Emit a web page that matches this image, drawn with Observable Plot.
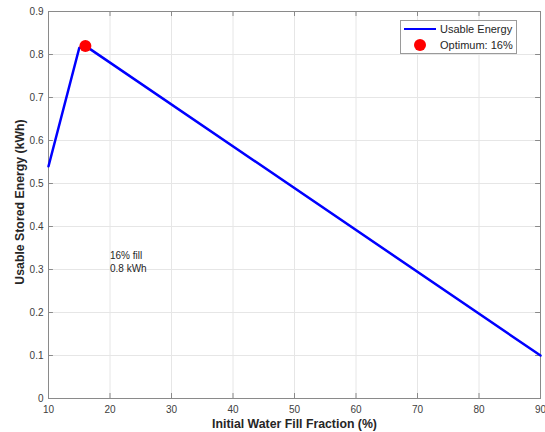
<!DOCTYPE html>
<html><head><meta charset="utf-8">
<script src="https://cdn.jsdelivr.net/npm/d3@7"></script>
<script src="https://cdn.jsdelivr.net/npm/@observablehq/plot@0.6"></script>
<style>
body{margin:0;background:#fff;font-family:"Liberation Sans",Arial,sans-serif}
#wrap{position:relative;width:545px;height:432px}
#legend{position:absolute;left:400px;top:20px;width:115px;height:32px;border:1px solid #9a9a9a;background:#fff;font-size:11px;color:#262626}
.row{position:absolute;left:0;height:14px;display:flex;align-items:center}
.sw{width:32px;margin-left:3px;display:flex;justify-content:center;align-items:center}
.lab{margin-left:4px}
</style>
</head><body>
<div id="wrap"><div id="legend">
<div class="row" style="top:1px"><div class="sw"><div style="width:32px;height:2.5px;background:#0000ff"></div></div><div class="lab">Usable Energy</div></div>
<div class="row" style="top:17px"><div class="sw"><div style="width:12px;height:12px;border-radius:6px;background:#ff0000"></div></div><div class="lab">Optimum: 16%</div></div>
</div></div>
<script>
const fillPct = [10, 15, 16, 90];
const usableEnergy = [0.54, 0.815, 0.82, 0.10];
const optFill = [16];
const optEnergy = [0.82];
const xTicks = [10, 20, 30, 40, 50, 60, 70, 80, 90];
const yTicks = [0, 0.1, 0.2, 0.3, 0.4, 0.5, 0.6, 0.7, 0.8, 0.9];
const noteText = ["16% fill\n0.8 kWh"];
const noteX = [20];
const noteY = [0.32];
const xLabel = "Initial Water Fill Fraction (%)";
const yLabel = "Usable Stored Energy (kWh)";

const lineData = fillPct.map((x, i) => ({x, y: usableEnergy[i]}));
const optData = optFill.map((x, i) => ({x, y: optEnergy[i]}));
const noteData = noteText.map((t, i) => ({t, x: noteX[i], y: noteY[i]}));
const axisColor = "#8a8a8a";
const tickFmt = d => String(d);
const tx = 0.8, ty = 0.0116;

const chart = Plot.plot({
  width: 545, height: 432,
  marginLeft: 48, marginRight: 5, marginTop: 11, marginBottom: 34,
  style: {fontFamily: '"Liberation Sans", Arial, sans-serif', fontSize: "10px", color: "#262626", background: "#fff"},
  x: {domain: [10, 90]},
  y: {domain: [0, 0.9]},
  marks: [
    Plot.gridX(xTicks, {stroke: "#e6e6e6", strokeOpacity: 1}),
    Plot.gridY(yTicks, {stroke: "#e6e6e6", strokeOpacity: 1}),
    Plot.axisX(xTicks, {anchor: "bottom", tickSize: 0, tickPadding: 7, tickFormat: tickFmt, label: null, fill: "#404040"}),
    Plot.axisY(yTicks, {anchor: "left", tickSize: 0, tickPadding: 5, tickFormat: tickFmt, label: null, fill: "#404040"}),
    Plot.ruleX(xTicks, {x: d => d, y1: 0, y2: ty, stroke: axisColor}),
    Plot.ruleX(xTicks, {x: d => d, y1: 0.9, y2: 0.9 - ty, stroke: axisColor}),
    Plot.ruleY(yTicks, {y: d => d, x1: 10, x2: 10 + tx, stroke: axisColor}),
    Plot.ruleY(yTicks, {y: d => d, x1: 90, x2: 90 - tx, stroke: axisColor}),
    Plot.frame({stroke: axisColor}),
    Plot.line(lineData, {x: "x", y: "y", stroke: "#0000ff", strokeWidth: 2.5}),
    Plot.dot(optData, {x: "x", y: "y", r: 6, fill: "#ff0000", stroke: "none"}),
    Plot.text(noteData, {x: "x", y: "y", text: "t", textAnchor: "start", lineAnchor: "middle", fontSize: 10, fill: "#262626", lineHeight: 1.3}),
    Plot.text([xLabel], {frameAnchor: "bottom", textAnchor: "middle", dy: 26, fontWeight: "bold", fontSize: 12.3, fill: "#262626", lineAnchor: "middle"}),
    Plot.text([yLabel], {frameAnchor: "left", textAnchor: "middle", dx: -28, dy: -3, rotate: -90, fontWeight: "bold", fontSize: 12.3, fill: "#262626", lineAnchor: "middle"})
  ]
});
document.getElementById("wrap").prepend(chart);
</script>
</body></html>
